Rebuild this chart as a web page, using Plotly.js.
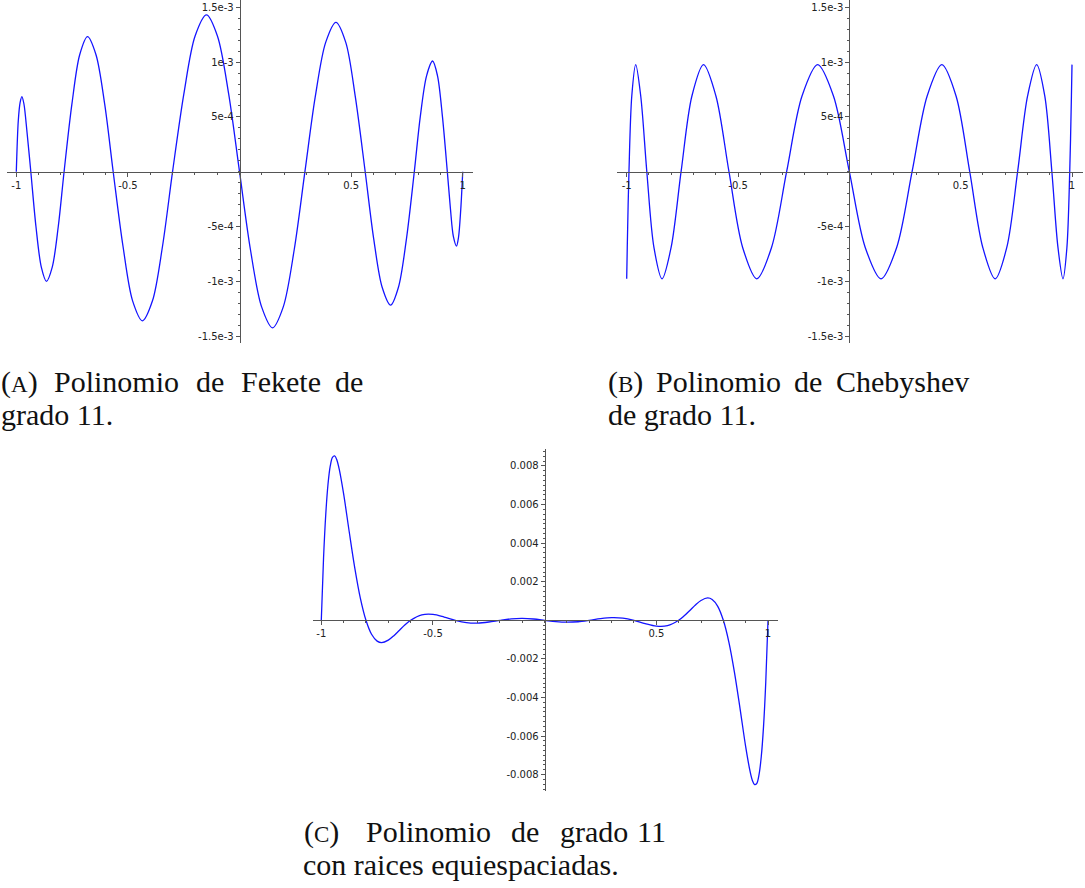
<!DOCTYPE html>
<html>
<head>
<meta charset="utf-8">
<script src="https://cdn.plot.ly/plotly-3.0.1.min.js"></script>
<style>
  body { margin: 0; background: #fff; }
  #plot { width: 1085px; height: 888px; }
</style>
</head>
<body>
<div id="plot"></div>
<script>
// (A) Fekete, degree 11
var xFekete = [-1, -0.991, -0.983, -0.975, -0.966, -0.952, -0.935,
  -0.912, -0.888, -0.865, -0.839, -0.812, -0.786,
  -0.751, -0.716, -0.681, -0.643, -0.604, -0.566,
  -0.522, -0.479, -0.435, -0.390, -0.345, -0.300,
  -0.249, -0.199, -0.148, -0.099, -0.049, 0,
  0.049, 0.099, 0.148, 0.196, 0.245, 0.293,
  0.339, 0.386, 0.432, 0.476, 0.519, 0.563,
  0.601, 0.639, 0.677, 0.712, 0.748, 0.783,
  0.810, 0.838, 0.865, 0.887, 0.909, 0.931,
  0.945, 0.958, 0.972, 0.981, 0.991, 1];
var yFekete = [0, 0.00047, 0.00063, 0.000685, 0.00062, 0.00036, 0,
  -0.0005, -0.00087, -0.001, -0.00087, -0.0005, 0,
  0.000616, 0.001067, 0.001232, 0.001067, 0.000616, 0,
  -0.00068, -0.001178, -0.00136, -0.001178, -0.00068, 0,
  0.000715, 0.001238, 0.00143, 0.001238, 0.000715, 0,
  -0.000712, -0.001233, -0.001424, -0.001233, -0.000712, 0,
  0.00068, 0.00118, 0.001363, 0.00118, 0.00068, 0,
  -0.00061, -0.001054, -0.001217, -0.001054, -0.00061, 0,
  0.000505, 0.000875, 0.00101, 0.000875, 0.000505, 0,
  -0.00034, -0.00059, -0.000678, -0.0006, -0.00035, 0];

// (B) Chebyshev, degree 11
var xCheb = [-1, -0.99745, -0.98982, -0.97715, -0.95949, -0.93695, -0.90963, -0.87768,
  -0.84125, -0.80054, -0.75575, -0.70711, -0.65486, -0.59928, -0.54064, -0.47925,
  -0.41542, -0.34946, -0.28173, -0.21257, -0.14231, -0.07134, 0,
  0.07134, 0.14231, 0.21257, 0.28173, 0.34946, 0.41542, 0.47925, 0.54064,
  0.59928, 0.65486, 0.70711, 0.75575, 0.80054, 0.84125, 0.87768, 0.90963,
  0.93695, 0.95949, 0.97715, 0.98982, 0.99745, 1];
var yCheb = [-0.000977, -0.000691, 0, 0.000691, 0.000977, 0.000691, 0, -0.000691,
  -0.000977, -0.000691, 0, 0.000691, 0.000977, 0.000691, 0, -0.000691,
  -0.000977, -0.000691, 0, 0.000691, 0.000977, 0.000691, 0,
  -0.000691, -0.000977, -0.000691, 0, 0.000691, 0.000977, 0.000691, 0,
  -0.000691, -0.000977, -0.000691, 0, 0.000691, 0.000977, 0.000691, 0,
  -0.000691, -0.000977, -0.000691, 0, 0.000691, 0.000977];

// (C) equispaced roots, degree 11
var xEqui = [-1, -0.99, -0.98, -0.97, -0.96, -0.95, -0.94, -0.93, -0.92, -0.9,
  -0.875, -0.85, -0.825, -0.8, -0.775, -0.75, -0.73, -0.7, -0.675, -0.65, -0.625,
  -0.6, -0.55, -0.5, -0.45, -0.4, -0.35, -0.3, -0.25, -0.2, -0.15, -0.1, -0.05, 0,
  0.05, 0.1, 0.15, 0.2, 0.25, 0.3, 0.35, 0.4, 0.45, 0.5, 0.55, 0.6,
  0.625, 0.65, 0.675, 0.7, 0.73, 0.75, 0.775, 0.8, 0.825, 0.85, 0.875,
  0.9, 0.92, 0.93, 0.94, 0.95, 0.96, 0.97, 0.98, 0.99, 1];
var yEqui = [0, 0.0032, 0.0055, 0.00705, 0.00799, 0.00845, 0.00852, 0.0083, 0.00785, 0.00655,
  0.00459, 0.00271, 0.00114, 0, -0.000725, -0.00108, -0.00116, -0.00103, -0.000796, -0.000512, -0.000235,
  0, 0.000279, 0.000304, 0.000171, 0, -0.000117, -0.000142, -0.000088, 0, 0.000074, 0.000098, 0.000067, 0,
  -0.000067, -0.000098, -0.000074, 0, 0.000088, 0.000142, 0.000117, 0, -0.000171, -0.000304, -0.000279, 0,
  0.000235, 0.000512, 0.000796, 0.00103, 0.00116, 0.00108, 0.000725, 0, -0.00114, -0.00271, -0.00459,
  -0.00655, -0.00785, -0.0083, -0.00852, -0.00845, -0.00799, -0.00705, -0.0055, -0.0032, 0];

var xTickVals = [-1, -0.5, 0.5, 1];
var xTickText = ["-1", "-0.5", "0.5", "1"];
var ySmallVals = [-0.0015, -0.001, -0.0005, 0.0005, 0.001, 0.0015];
var ySmallText = ["-1.5e-3", "-1e-3", "-5e-4", "5e-4", "1e-3", "1.5e-3"];
var yBigVals = [-0.008, -0.006, -0.004, -0.002, 0.002, 0.004, 0.006, 0.008];
var yBigText = ["-0.008", "-0.006", "-0.004", "-0.002", "0.002", "0.004", "0.006", "0.008"];

// captions: the justified first lines are set word by word
var capA1 = ["(<span style='font-size:23px'>A</span>)", "Polinomio", "de", "Fekete", "de"];
var capA2 = "grado 11.";
var capB1 = ["(<span style='font-size:23px'>B</span>)", "Polinomio", "de", "Chebyshev"];
var capB2 = "de grado 11.";
var capC1 = ["(<span style='font-size:23px'>C</span>)", "Polinomio", "de", "grado", "11"];
var capC2 = "con raices equiespaciadas.";

var W = 1085, H = 888;
var tickFont = {family: "DejaVu Sans", size: 10, color: "#222"};
var axisColor = "#555";
var capFont = {family: "Liberation Serif, DejaVu Serif, serif", size: 30, color: "#111"};

function lineTrace(x, y, xa, ya) {
  return {
    x: x, y: y, xaxis: xa, yaxis: ya,
    type: 'scatter', mode: 'lines',
    line: {color: 'rgb(20,20,255)', width: 1.3, shape: 'spline', smoothing: 0.9},
    hoverinfo: 'skip'
  };
}

// x axis crossing the y axis at zero
function xAxis(dom, rng, pos) {
  return {
    domain: [dom[0] / W, dom[1] / W], range: rng,
    anchor: 'free', position: pos,
    showline: true, linecolor: axisColor, linewidth: 1,
    showgrid: false, zeroline: false,
    tickmode: 'array', tickvals: xTickVals, ticktext: xTickText,
    ticks: 'outside', ticklen: 4, tickcolor: axisColor, tickfont: tickFont,
    minor: {tickmode: 'linear', tick0: 0, dtick: 0.1, ticks: 'outside', ticklen: 2, tickcolor: axisColor}
  };
}
function yAxis(dom, rng, pos, vals, text, mdt) {
  return {
    domain: [1 - dom[1] / H, 1 - dom[0] / H], range: rng,
    anchor: 'free', position: pos,
    showline: true, linecolor: axisColor, linewidth: 1,
    showgrid: false, zeroline: false,
    tickmode: 'array', tickvals: vals, ticktext: text,
    ticks: 'outside', ticklen: 4, tickcolor: axisColor, tickfont: tickFont,
    minor: {tickmode: 'linear', tick0: 0, dtick: mdt, ticks: 'outside', ticklen: 2, tickcolor: axisColor}
  };
}

var data = [
  lineTrace(xFekete, yFekete, 'x', 'y'),
  lineTrace(xCheb, yCheb, 'x2', 'y2'),
  lineTrace(xEqui, yEqui, 'x3', 'y3')
];

var annotations = [];
function cap(text, px, py) {
  annotations.push({
    xref: 'paper', yref: 'paper', x: px / W, y: 1 - py / H,
    xanchor: 'left', yanchor: 'middle', showarrow: false, borderpad: 0,
    text: text, font: capFont
  });
}
var wordsA = [0, 53, 195, 240, 334];
for (var i = 0; i < capA1.length; i++) cap(capA1[i], wordsA[i], 381.5);
cap(capA2, 0, 414.5);
var wordsB = [607, 655, 793, 835];
for (var i = 0; i < capB1.length; i++) cap(capB1[i], wordsB[i], 381.5);
cap(capB2, 607, 414.5);
var wordsC = [303, 365, 510, 559, 636];
for (var i = 0; i < capC1.length; i++) cap(capC1[i], wordsC[i], 831.5);
cap(capC2, 302, 864.5);

var layout = {
  width: W, height: H,
  margin: {l: 0, r: 0, t: 0, b: 0},
  paper_bgcolor: '#fff', plot_bgcolor: 'rgba(0,0,0,0)',
  showlegend: false,
  xaxis: xAxis([7, 473], [-1.0417, 1.046], 1 - 171.7 / H),
  yaxis: yAxis([0, 342.7], [-0.001560, 0.0015666], 239.7 / W, ySmallVals, ySmallText, 0.0001),
  xaxis2: xAxis([617.3, 1083], [-1.0422, 1.0494], 1 - 171.7 / H),
  yaxis2: yAxis([0, 342.7], [-0.001560, 0.0015666], 849.3 / W, ySmallVals, ySmallText, 0.0001),
  xaxis3: xAxis([312.7, 777.7], [-1.0385, 1.0434], 1 - 620.3 / H),
  yaxis3: yAxis([449.3, 791], [-0.008849, 0.008865], 544.7 / W, yBigVals, yBigText, 0.00025),
  annotations: annotations
};

Plotly.newPlot("plot", data, layout, {staticPlot: true});
</script>
</body>
</html>
